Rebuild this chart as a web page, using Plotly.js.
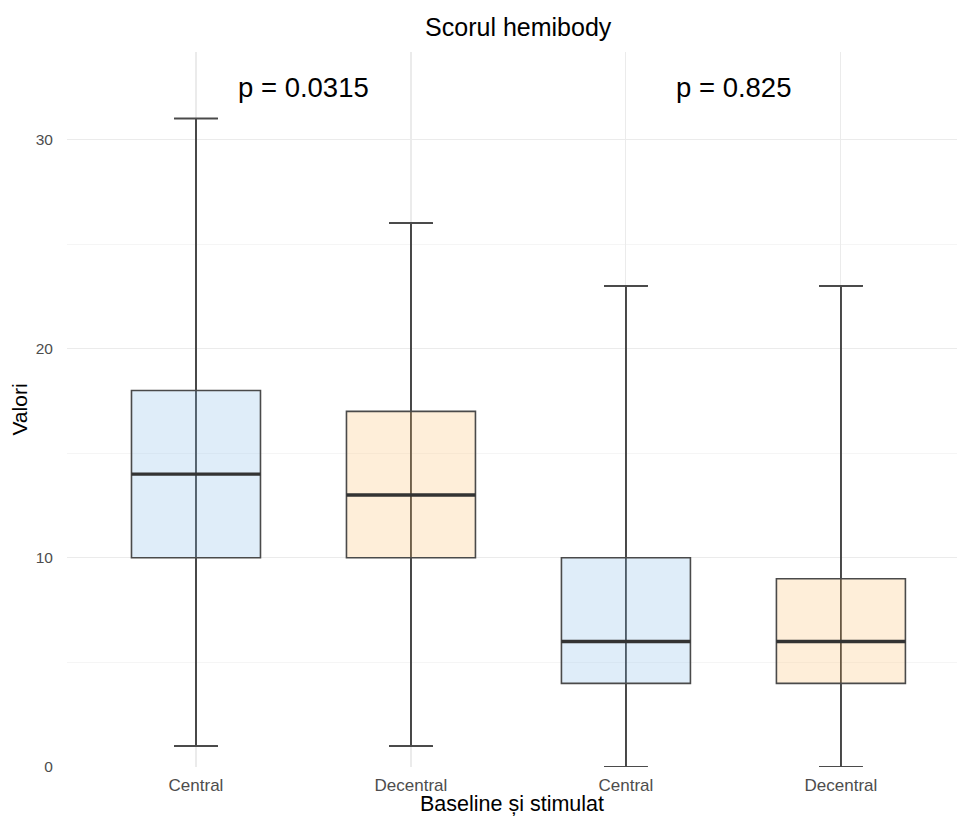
<!DOCTYPE html>
<html>
<head>
<meta charset="utf-8">
<script src="https://cdn.plot.ly/plotly-3.0.1.min.js"></script>
<style>html,body{margin:0;padding:0;background:#fff;}#chart{width:957px;height:816px;}</style>
</head>
<body>
<div id="chart"></div>
<script>
// ---- data ----
const categories = ["Central", "Decentral", "Central", "Decentral"];
const groups = ["Baseline", "Baseline", "Stimulat", "Stimulat"];
const lowerWhisker = [1, 1, 0, 0];
const q1Values = [10, 10, 4, 4];
const medianValues = [14, 13, 6, 6];
const q3Values = [18, 17, 10, 9];
const upperWhisker = [31, 26, 23, 23];
const pLabels = ["p = 0.0315", "p = 0.825"];
const pLabelY = [32.5, 32.5];

const fillColors = {
  "Central": "rgba(140,190,235,0.28)",
  "Decentral": "rgba(250,195,120,0.28)"
};

const positions = categories.map((c, i) => i);
const traces = [];
positions.forEach((x, i) => {
  // whisker line from min to max (drawn underneath the box)
  traces.push({
    type: "box", x: [x], q1: [medianValues[i]], median: [medianValues[i]], q3: [medianValues[i]],
    lowerfence: [lowerWhisker[i]], upperfence: [upperWhisker[i]],
    width: 0.6, whiskerwidth: 0.34, boxpoints: false,
    line: { color: "#1a1a1a", width: 1.6 }, fillcolor: "rgba(0,0,0,0)",
    hoverinfo: "skip", showlegend: false
  });
  // box
  traces.push({
    type: "box", x: [x], q1: [q1Values[i]], median: [medianValues[i]], q3: [q3Values[i]],
    lowerfence: [lowerWhisker[i]], upperfence: [upperWhisker[i]],
    width: 0.6, whiskerwidth: 0.34, boxpoints: false,
    line: { color: "#4a4a4a", width: 1.6 }, fillcolor: fillColors[categories[i]],
    name: groups[i] + " " + categories[i], showlegend: false
  });
  // thicker median line
  traces.push({
    type: "box", x: [x], q1: [medianValues[i]], median: [medianValues[i]], q3: [medianValues[i]],
    lowerfence: [medianValues[i]], upperfence: [medianValues[i]],
    width: 0.6, whiskerwidth: 0, boxpoints: false,
    line: { color: "#333333", width: 3.4 }, fillcolor: "rgba(0,0,0,0)",
    hoverinfo: "skip", showlegend: false
  });
});

const font = "Liberation Sans, Arial, Helvetica, sans-serif";
const layout = {
  width: 957, height: 816,
  paper_bgcolor: "#ffffff", plot_bgcolor: "#ffffff",
  margin: { l: 67, r: 0, t: 52, b: 49, pad: 0 },
  boxmode: "overlay",
  showlegend: false,
  font: { family: font, color: "#000000" },
  title: { text: "Scorul hemibody", font: { family: font, size: 25, color: "#000000" },
           x: 0.507, xref: "paper", xanchor: "center", y: 0.967, yref: "container", yanchor: "middle" },
  xaxis: {
    range: [-0.6, 3.54], tickvals: positions, ticktext: categories,
    showgrid: true, gridcolor: "#ebebeb", gridwidth: 1.1, zeroline: false, showline: false,
    ticks: "outside", ticklen: 3, tickcolor: "rgba(0,0,0,0)",
    tickfont: { family: font, size: 17, color: "#4d4d4d" },
    title: { text: "Baseline și stimulat", font: { family: font, size: 21.5, color: "#000000" }, standoff: 1 },
    fixedrange: true
  },
  yaxis: {
    range: [0, 34.18], tickvals: [0, 10, 20, 30],
    showgrid: true, gridcolor: "#ebebeb", gridwidth: 1.1, zeroline: false, showline: false,
    minor: { tickvals: [5, 15, 25], showgrid: true, gridcolor: "#f4f4f4", gridwidth: 0.9, ticks: "" },
    ticks: "outside", ticklen: 10, tickcolor: "rgba(0,0,0,0)",
    tickfont: { family: font, size: 15.5, color: "#4d4d4d" },
    title: { text: "Valori", font: { family: font, size: 21, color: "#000000" }, standoff: 2 },
    fixedrange: true
  },
  annotations: pLabels.map((t, i) => ({
    text: t, x: 0.5 + 2 * i, y: pLabelY[i], xref: "x", yref: "y",
    showarrow: false, xanchor: "center", yanchor: "middle",
    font: { family: font, size: 27.5, color: "#000000" }
  }))
};

Plotly.newPlot("chart", traces, layout, { displayModeBar: false, staticPlot: true });
</script>
</body>
</html>
